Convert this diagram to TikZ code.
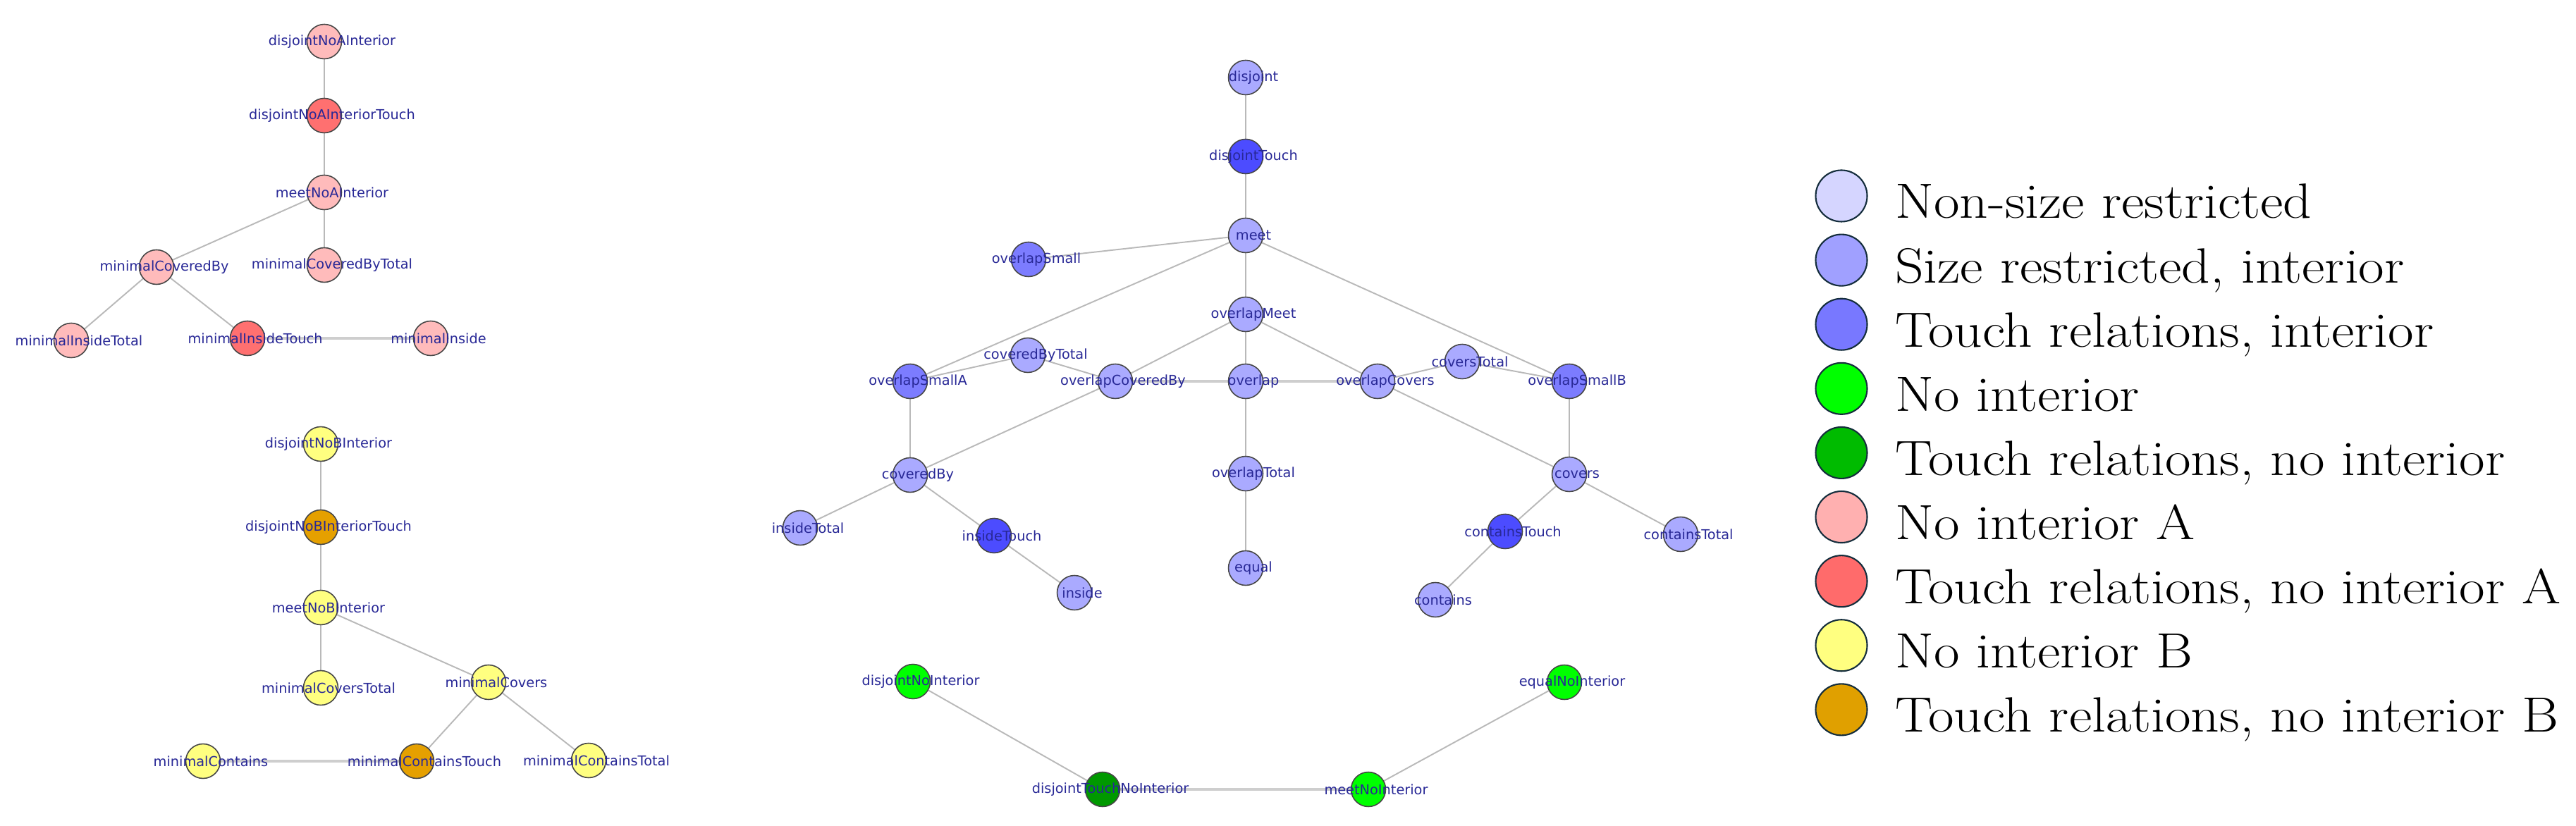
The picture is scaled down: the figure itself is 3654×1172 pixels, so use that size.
\documentclass[tikz,border=0pt]{standalone}
\usepackage{fontspec}
\usepackage{xcolor}
\usepackage{tikz}
\usetikzlibrary{positioning, backgrounds}
\newfontfamily\relfont{DejaVu Sans}
\newfontfamily\legfont[FakeStretch=1.13]{Latin Modern Roman}
\definecolor{sizeblue}{RGB}{170, 170, 255}
\definecolor{smallblue}{RGB}{124, 124, 255}
\definecolor{touchblue}{RGB}{76, 76, 255}
\definecolor{noint}{RGB}{0, 255, 0}
\definecolor{nointtouch}{RGB}{0, 153, 0}
\definecolor{nointa}{RGB}{255, 187, 187}
\definecolor{nointatouch}{RGB}{255, 112, 112}
\definecolor{nointb}{RGB}{255, 255, 128}
\definecolor{nointbtouch}{RGB}{229, 160, 0}
\definecolor{labelblue}{RGB}{40, 40, 150}
\definecolor{edgegray}{RGB}{185, 185, 185}
\definecolor{nodeborder}{RGB}{70, 70, 70}
\definecolor{legborder}{RGB}{20, 45, 60}
\definecolor{legnonsize}{RGB}{213, 213, 255}
\definecolor{legsize}{RGB}{160, 160, 255}
\definecolor{legtouch}{RGB}{120, 120, 255}
\definecolor{legnointtouch}{RGB}{0, 187, 0}
\definecolor{legnointa}{RGB}{255, 176, 176}
\definecolor{legnointatouch}{RGB}{255, 107, 107}
\definecolor{legnointbtouch}{RGB}{224, 160, 0}

\tikzset{
    rel/.style={circle, draw=nodeborder, line width=0.45pt, minimum size=4.9mm, inner sep=0pt},
    lbl/.style={font=\relfont\fontsize{5.5}{6}\selectfont, text=labelblue, inner sep=0pt, xshift=1.1mm},
    link/.style={draw=edgegray, line width=0.55pt},
    widelink/.style={draw=edgegray!70, line width=1pt},
    legdot/.style={circle, draw=legborder, line width=0.6pt, minimum size=7.3mm, inner sep=0pt},
    legtext/.style={anchor=base west, inner sep=0pt, font=\legfont\fontsize{20}{24}\selectfont}
}

\begin{document}
\begin{tikzpicture}[x=0.1mm, y=-0.1mm]
    \useasboundingbox (0,0) rectangle (3654,1172);

    % No interior A
    \node[rel, fill=nointa, label={[lbl]center:disjointNoAInterior}] (djna) at (460,59) {};
    \node[rel, fill=nointatouch, label={[lbl]center:disjointNoAInteriorTouch}] (djnat) at (460,164) {};
    \node[rel, fill=nointa, label={[lbl]center:meetNoAInterior}] (mtna) at (460,273) {};
    \node[rel, fill=nointa, label={[lbl]center:minimalCoveredBy}] (mcb) at (222,379) {};
    \node[rel, fill=nointa, label={[lbl]center:minimalCoveredByTotal}] (mcbt) at (460,376) {};
    \node[rel, fill=nointa, label={[lbl]center:minimalInsideTotal}] (mint) at (101,483) {};
    \node[rel, fill=nointatouch, label={[lbl]center:minimalInsideTouch}] (mintch) at (351,480) {};
    \node[rel, fill=nointa, label={[lbl]center:minimalInside}] (mins) at (611,480) {};

    % No interior B
    \node[rel, fill=nointb, label={[lbl]center:disjointNoBInterior}] (djnb) at (455,630) {};
    \node[rel, fill=nointbtouch, label={[lbl]center:disjointNoBInteriorTouch}] (djnbt) at (455,748) {};
    \node[rel, fill=nointb, label={[lbl]center:meetNoBInterior}] (mtnb) at (455,862) {};
    \node[rel, fill=nointb, label={[lbl]center:minimalCoversTotal}] (mcvt) at (455,976) {};
    \node[rel, fill=nointb, label={[lbl]center:minimalCovers}] (mcv) at (693,968) {};
    \node[rel, fill=nointb, label={[lbl]center:minimalContains}] (mct) at (288,1080) {};
    \node[rel, fill=nointbtouch, label={[lbl]center:minimalContainsTouch}] (mcttch) at (591,1080) {};
    \node[rel, fill=nointb, label={[lbl]center:minimalContainsTotal}] (mcttot) at (835,1079) {};

    % Interior relations
    \node[rel, fill=sizeblue, label={[lbl]center:disjoint}] (dj) at (1767,110) {};
    \node[rel, fill=touchblue, label={[lbl]center:disjointTouch}] (djt) at (1767,222) {};
    \node[rel, fill=sizeblue, label={[lbl]center:meet}] (mt) at (1767,334) {};
    \node[rel, fill=smallblue, label={[lbl]center:overlapSmall}] (ovs) at (1459,368) {};
    \node[rel, fill=sizeblue, label={[lbl]center:overlapMeet}] (ovm) at (1767,446) {};
    \node[rel, fill=sizeblue, label={[lbl]center:coveredByTotal}] (cbt) at (1458,504) {};
    \node[rel, fill=smallblue, label={[lbl]center:overlapSmallA}] (ovsa) at (1291,541) {};
    \node[rel, fill=sizeblue, label={[lbl]center:overlapCoveredBy}] (ovcb) at (1582,541) {};
    \node[rel, fill=sizeblue, label={[lbl]center:overlap}] (ov) at (1767,541) {};
    \node[rel, fill=sizeblue, label={[lbl]center:overlapCovers}] (ovcv) at (1954,541) {};
    \node[rel, fill=sizeblue, label={[lbl]center:coversTotal}] (cvt) at (2074,513) {};
    \node[rel, fill=smallblue, label={[lbl]center:overlapSmallB}] (ovsb) at (2226,541) {};
    \node[rel, fill=sizeblue, label={[lbl]center:coveredBy}] (cb) at (1291,674) {};
    \node[rel, fill=sizeblue, label={[lbl]center:overlapTotal}] (ovt) at (1767,672) {};
    \node[rel, fill=sizeblue, label={[lbl]center:covers}] (cv) at (2226,673) {};
    \node[rel, fill=sizeblue, label={[lbl]center:insideTotal}] (inst) at (1135,749) {};
    \node[rel, fill=touchblue, label={[lbl]center:insideTouch}] (instch) at (1410,760) {};
    \node[rel, fill=touchblue, label={[lbl]center:containsTouch}] (cttch) at (2135,754) {};
    \node[rel, fill=sizeblue, label={[lbl]center:containsTotal}] (cttot) at (2384,758) {};
    \node[rel, fill=sizeblue, label={[lbl]center:equal}] (eq) at (1767,806) {};
    \node[rel, fill=sizeblue, label={[lbl]center:inside}] (ins) at (1524,841) {};
    \node[rel, fill=sizeblue, label={[lbl]center:contains}] (ct) at (2036,851) {};

    % No interior
    \node[rel, fill=noint, label={[lbl]center:disjointNoInterior}] (djn) at (1295,967) {};
    \node[rel, fill=noint, label={[lbl]center:equalNoInterior}] (eqn) at (2219,968) {};
    \node[rel, fill=nointtouch, label={[lbl]center:disjointTouchNoInterior}] (djtn) at (1564,1120) {};
    \node[rel, fill=noint, label={[lbl]center:meetNoInterior}] (mtn) at (1941,1120) {};

    % Links
    \begin{scope}[on background layer]
        \draw[link] (djna) -- (djnat) -- (mtna) -- (mcbt);
        \draw[link] (mtna) -- (mcb);
        \draw[link] (mcb) -- (mint);
        \draw[link] (mcb) -- (mintch);
        \draw[widelink] (mintch) -- (mins);

        \draw[link] (djnb) -- (djnbt) -- (mtnb) -- (mcvt);
        \draw[link] (mtnb) -- (mcv);
        \draw[link] (mcv) -- (mcttch);
        \draw[link] (mcv) -- (mcttot);
        \draw[widelink] (mct) -- (mcttch);

        \draw[link] (dj) -- (djt) -- (mt) -- (ovm) -- (ov) -- (ovt) -- (eq);
        \draw[link] (mt) -- (ovs);
        \draw[link] (mt) -- (ovsa);
        \draw[link] (mt) -- (ovsb);
        \draw[link] (ovm) -- (ovcb);
        \draw[link] (ovm) -- (ovcv);
        \draw[link] (ovsa) -- (cbt) -- (ovcb);
        \draw[link] (ovcv) -- (cvt) -- (ovsb);
        \draw[widelink] (ovcb) -- (ov) -- (ovcv);
        \draw[link] (ovsa) -- (cb);
        \draw[link] (ovcb) -- (cb);
        \draw[link] (ovcv) -- (cv);
        \draw[link] (ovsb) -- (cv);
        \draw[link] (cb) -- (inst);
        \draw[link] (cb) -- (instch) -- (ins);
        \draw[link] (cv) -- (cttch) -- (ct);
        \draw[link] (cv) -- (cttot);

        \draw[link] (djn) -- (djtn);
        \draw[widelink] (djtn) -- (mtn);
        \draw[link] (mtn) -- (eqn);
    \end{scope}

    % Legend
    \node[legdot, fill=legnonsize] (leg1) at (2612,278) {};
    \node[legdot, fill=legsize, below=1.6mm of leg1] (leg2) {};
    \node[legdot, fill=legtouch, below=1.6mm of leg2] (leg3) {};
    \node[legdot, fill=noint, below=1.6mm of leg3] (leg4) {};
    \node[legdot, fill=legnointtouch, below=1.6mm of leg4] (leg5) {};
    \node[legdot, fill=legnointa, below=1.6mm of leg5] (leg6) {};
    \node[legdot, fill=legnointatouch, below=1.6mm of leg6] (leg7) {};
    \node[legdot, fill=nointb, below=1.6mm of leg7] (leg8) {};
    \node[legdot, fill=legnointbtouch, below=1.6mm of leg8] (leg9) {};
    \node[legtext] at ([xshift=3.8mm, yshift=-3.2mm]leg1.east) {Non-size restricted};
    \node[legtext] at ([xshift=3.8mm, yshift=-3.2mm]leg2.east) {Size restricted, interior};
    \node[legtext] at ([xshift=3.8mm, yshift=-3.2mm]leg3.east) {Touch relations, interior};
    \node[legtext] at ([xshift=3.8mm, yshift=-3.2mm]leg4.east) {No interior};
    \node[legtext] at ([xshift=3.8mm, yshift=-3.2mm]leg5.east) {Touch relations, no interior};
    \node[legtext] at ([xshift=3.8mm, yshift=-3.2mm]leg6.east) {No interior A};
    \node[legtext] at ([xshift=3.8mm, yshift=-3.2mm]leg7.east) {Touch relations, no interior A};
    \node[legtext] at ([xshift=3.8mm, yshift=-3.2mm]leg8.east) {No interior B};
    \node[legtext] at ([xshift=3.8mm, yshift=-3.2mm]leg9.east) {Touch relations, no interior B};
\end{tikzpicture}
\end{document}
